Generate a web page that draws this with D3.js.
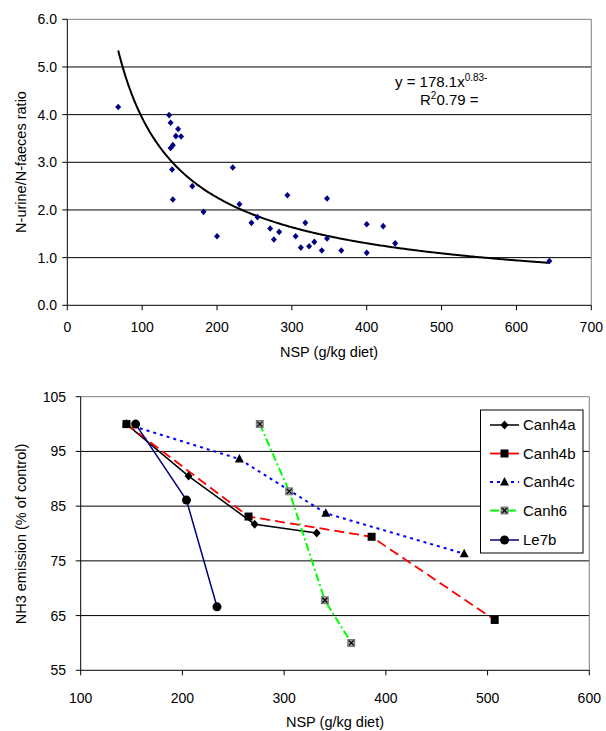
<!DOCTYPE html>
<html><head><meta charset="utf-8">
<script src="https://cdn.jsdelivr.net/npm/d3@7"></script>
<style>body{margin:0;background:#fff} text{font-family:"Liberation Sans",Arial,sans-serif;fill:#000}</style>
</head><body><svg id="c" width="606" height="731"></svg>
<script>
// ---------- Top chart data ----------
const nspTop = [68,136,138,148,145,152,138,141,140,141,167,182,200,221,230,246,254,271,276,283,294,305,312,318,323,330,340,347,347,366,400,400,422,438,644];
const ratioTop = [4.16,3.99,3.83,3.70,3.55,3.54,3.30,3.36,2.85,2.22,2.50,1.96,1.45,2.89,2.12,1.73,1.85,1.61,1.38,1.54,2.31,1.45,1.21,1.73,1.24,1.33,1.15,2.24,1.40,1.15,1.70,1.10,1.66,1.30,0.93];
const trendCoef = 154.3, trendExp = -0.797;
const trendRange = [68, 644];
const topXTicks = [0,100,200,300,400,500,600,700];
const topYTicks = [0,1,2,3,4,5,6];

// ---------- Bottom chart data ----------
const seriesNames = ["Canh4a","Canh4b","Canh4c","Canh6","Le7b"];
const canh4aX = [145,206,271,332],     canh4aY = [100,90.5,81.7,80.1];
const canh4bX = [145,265,386,507],     canh4bY = [100,83.1,79.4,64.2];
const canh4cX = [145,256,341,477],     canh4cY = [100,93.6,83.7,76.3];
const canh6X  = [276,305,340,366],     canh6Y  = [100,87.7,67.8,60.0];
const le7bX   = [154,204,234],         le7bY   = [100,86.1,66.6];
const botXTicks = [100,200,300,400,500,600];
const botYTicks = [55,65,75,85,95,105];

const svg = d3.select("#c");
const FS = 14;

// ================= TOP CHART =================
const xT = d3.scaleLinear().domain([0,700]).range([67.3,591.3]);
const yT = d3.scaleLinear().domain([0,6]).range([305.3,19.3]);
const gT = svg.append("g");

gT.selectAll(".gt").data(topYTicks.filter(d=>d>0)).join("line")
  .attr("x1",xT(0)).attr("x2",xT(700))
  .attr("y1",d=>yT(d)).attr("y2",d=>yT(d))
  .attr("stroke",d=>d===6?"#808080":"#000").attr("stroke-width",1);
gT.append("line").attr("x1",xT(700)).attr("x2",xT(700)).attr("y1",yT(6)).attr("y2",yT(0)).attr("stroke","#808080");
gT.append("line").attr("x1",xT(0)).attr("x2",xT(0)).attr("y1",yT(6)).attr("y2",yT(0)).attr("stroke","#000");
gT.append("line").attr("x1",xT(0)).attr("x2",xT(700)).attr("y1",yT(0)).attr("y2",yT(0)).attr("stroke","#000");
gT.selectAll(".ytk").data(topYTicks).join("line")
  .attr("x1",xT(0)-5).attr("x2",xT(0)).attr("y1",d=>yT(d)).attr("y2",d=>yT(d)).attr("stroke","#000");
gT.selectAll(".xtk").data(topXTicks).join("line")
  .attr("x1",d=>xT(d)).attr("x2",d=>xT(d)).attr("y1",yT(0)).attr("y2",yT(0)+5).attr("stroke","#000");
gT.selectAll(".ytl").data(topYTicks).join("text")
  .attr("x",57).attr("y",d=>yT(d)).attr("dy","0.36em").attr("text-anchor","end")
  .attr("font-size",FS).text(d=>d3.format(".1f")(d));
gT.selectAll(".xtl").data(topXTicks).join("text")
  .attr("x",d=>xT(d)).attr("y",332).attr("text-anchor","middle")
  .attr("font-size",FS).text(d=>d);
gT.append("text").attr("x",329).attr("y",357).attr("text-anchor","middle").attr("font-size",14.5).text("NSP (g/kg diet)");
gT.append("text").attr("transform","translate(26,162) rotate(-90)").attr("text-anchor","middle").attr("font-size",14.5).text("N-urine/N-faeces ratio");

const trendPts = d3.range(trendRange[0], trendRange[1]+1, 2).map(x=>[x, trendCoef*Math.pow(x,trendExp)]);
gT.append("path").datum(trendPts)
  .attr("d", d3.line().x(d=>xT(d[0])).y(d=>yT(d[1])).curve(d3.curveBasis))
  .attr("fill","none").attr("stroke","#000").attr("stroke-width",2);

gT.selectAll(".pt").data(nspTop.map((x,i)=>[x,ratioTop[i]])).join("path")
  .attr("transform",d=>`translate(${xT(d[0])},${yT(d[1])})`)
  .attr("d","M0,-3.3L3,0L0,3.3L-3,0Z").attr("fill","#000080");

const eq = gT.append("text").attr("x",395).attr("y",87).attr("font-size",15);
eq.append("tspan").text("y = 178.1x");
eq.append("tspan").attr("dy",-6).attr("font-size",10).text("0.83-");
const r2 = gT.append("text").attr("x",420).attr("y",105).attr("font-size",15);
r2.append("tspan").text("R");
r2.append("tspan").attr("dy",-6).attr("font-size",10).text("2");
r2.append("tspan").attr("dy",6).text("0.79 =");

// ================= BOTTOM CHART =================
const xB = d3.scaleLinear().domain([100,600]).range([80.7,589.3]);
const yB = d3.scaleLinear().domain([55,105]).range([670.3,396.7]);
const gB = svg.append("g");

gB.selectAll(".gb").data(botYTicks.filter(d=>d>55)).join("line")
  .attr("x1",xB(100)).attr("x2",xB(600)).attr("y1",d=>yB(d)).attr("y2",d=>yB(d))
  .attr("stroke",d=>d===105?"#808080":"#000");
gB.append("line").attr("x1",xB(600)).attr("x2",xB(600)).attr("y1",yB(105)).attr("y2",yB(55)).attr("stroke","#808080");
gB.append("line").attr("x1",xB(100)).attr("x2",xB(100)).attr("y1",yB(105)).attr("y2",yB(55)).attr("stroke","#000");
gB.append("line").attr("x1",xB(100)).attr("x2",xB(600)).attr("y1",yB(55)).attr("y2",yB(55)).attr("stroke","#000");
gB.selectAll(".ytk").data(botYTicks).join("line")
  .attr("x1",xB(100)-5).attr("x2",xB(100)).attr("y1",d=>yB(d)).attr("y2",d=>yB(d)).attr("stroke","#000");
gB.selectAll(".xtk").data(botXTicks).join("line")
  .attr("x1",d=>xB(d)).attr("x2",d=>xB(d)).attr("y1",yB(55)).attr("y2",yB(55)+5).attr("stroke","#000");
gB.selectAll(".ytl").data(botYTicks).join("text")
  .attr("x",66).attr("y",d=>yB(d)).attr("dy","0.36em").attr("text-anchor","end")
  .attr("font-size",FS).text(d=>d);
gB.selectAll(".xtl").data(botXTicks).join("text")
  .attr("x",d=>xB(d)).attr("y",703).attr("text-anchor","middle").attr("font-size",FS).text(d=>d);
gB.append("text").attr("x",335).attr("y",727).attr("text-anchor","middle").attr("font-size",14.5).text("NSP (g/kg diet)");
gB.append("text").attr("transform","translate(26,534) rotate(-90)").attr("text-anchor","middle").attr("font-size",14.5).text("NH3 emission (% of control)");

const series = [
  {name:seriesNames[0], x:canh4aX, y:canh4aY, color:"#000000", dash:null, w:1.5, marker:"diamond"},
  {name:seriesNames[1], x:canh4bX, y:canh4bY, color:"#FF0000", dash:"10,5", w:1.8, marker:"square"},
  {name:seriesNames[2], x:canh4cX, y:canh4cY, color:"#0000FF", dash:"3,4", w:2, marker:"triangle"},
  {name:seriesNames[3], x:canh6X,  y:canh6Y,  color:"#00FF00", dash:"8,3,2,3", w:2, marker:"xsquare"},
  {name:seriesNames[4], x:le7bX,   y:le7bY,   color:"#000080", dash:null, w:1.5, marker:"circle"}
];

function drawMarker(g, type, cx, cy){
  const m = g.append("g").attr("transform",`translate(${cx},${cy})`);
  if(type==="diamond") m.append("path").attr("d","M0,-4.5L4,0L0,4.5L-4,0Z").attr("fill","#000");
  else if(type==="square") m.append("rect").attr("x",-4).attr("y",-4).attr("width",8).attr("height",8).attr("fill","#000");
  else if(type==="triangle") m.append("path").attr("d","M0,-5L4.5,3.5L-4.5,3.5Z").attr("fill","#000");
  else if(type==="xsquare"){
    m.append("rect").attr("x",-3.5).attr("y",-3.5).attr("width",7).attr("height",7).attr("fill","#999").attr("stroke","#666").attr("stroke-width",0.8);
    m.append("path").attr("d","M-2.5,-2.5L2.5,2.5M-2.5,2.5L2.5,-2.5").attr("stroke","#000").attr("stroke-width",1.2);
  }
  else if(type==="circle") m.append("circle").attr("r",4.5).attr("fill","#000");
}

const line = d3.line().x(d=>xB(d[0])).y(d=>yB(d[1]));
series.forEach(s=>{
  const pts = s.x.map((x,i)=>[x,s.y[i]]);
  const p = gB.append("path").datum(pts).attr("d",line).attr("fill","none")
    .attr("stroke",s.color).attr("stroke-width",s.w);
  if(s.dash) p.attr("stroke-dasharray",s.dash);
});
series.forEach(s=>{
  s.x.forEach((x,i)=>drawMarker(gB, s.marker, xB(x), yB(s.y[i])));
});

const lg = gB.append("g");
lg.append("rect").attr("x",480.5).attr("y",410).attr("width",102.5).attr("height",143)
  .attr("fill","#fff").attr("stroke","#000").attr("stroke-width",1);
const rowY = [425,453.5,482,510.5,540];
series.forEach((s,i)=>{
  const l = lg.append("line").attr("x1",490).attr("x2",519).attr("y1",rowY[i]).attr("y2",rowY[i])
    .attr("stroke",s.color).attr("stroke-width",s.w);
  if(s.dash) l.attr("stroke-dasharray", s.marker==="square"?null:(s.marker==="triangle"?"3,4":"9,3,2,3"));
  drawMarker(lg, s.marker, 504.5, rowY[i]);
  lg.append("text").attr("x",523).attr("y",rowY[i]).attr("dy","0.36em").attr("font-size",15).text(s.name);
});
</script></body></html>
